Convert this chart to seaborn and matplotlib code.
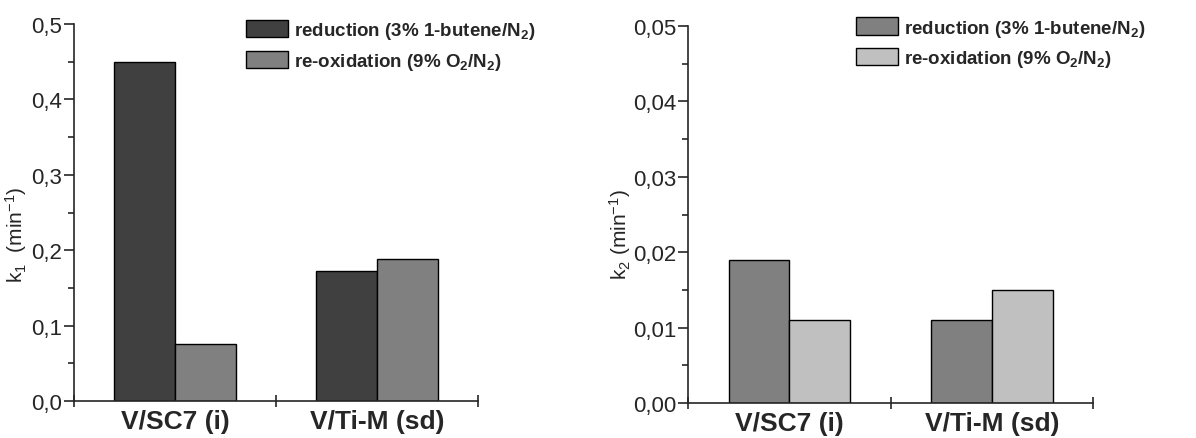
import pandas as pd
import seaborn as sns
import matplotlib.pyplot as plt
from matplotlib.ticker import FixedLocator, MultipleLocator, FuncFormatter

# data
catalysts = ['V/SC7 (i)', 'V/Ti-M (sd)']
steps = ['reduction (3% 1-butene/N$_2$)', 're-oxidation (9% O$_2$/N$_2$)']
k1_reduction = [0.450, 0.172]
k1_reoxidation = [0.076, 0.188]
k2_reduction = [0.019, 0.011]
k2_reoxidation = [0.011, 0.015]

sns.set_style('ticks')
plt.rcParams['font.family'] = ['Liberation Sans', 'DejaVu Sans']
plt.rcParams['mathtext.default'] = 'regular'

def make_df(red, reox):
    rows = []
    for c, r, o in zip(catalysts, red, reox):
        rows.append({'catalyst': c, 'step': steps[0], 'k': r})
        rows.append({'catalyst': c, 'step': steps[1], 'k': o})
    return pd.DataFrame(rows)

df1 = make_df(k1_reduction, k1_reoxidation)
df2 = make_df(k2_reduction, k2_reoxidation)

fig = plt.figure(figsize=(11.96, 4.39), dpi=100)
ax1 = fig.add_axes([0.0619, 0.0843, 0.3378, 0.8587])
ax2 = fig.add_axes([0.5753, 0.0797, 0.3386, 0.8588])

def draw(ax, df, colors, ymax, step, fmt, ylabel, label_xy, leg_anchor):
    sns.barplot(data=df, x='catalyst', y='k', hue='step', palette=colors,
                width=0.6, edgecolor='black', linewidth=1.0, ax=ax)
    ax.set_xlim(-0.5, 1.5)
    ax.set_ylim(0, ymax)
    ax.yaxis.set_major_locator(MultipleLocator(step))
    ax.yaxis.set_minor_locator(MultipleLocator(step / 2))
    ax.yaxis.set_major_formatter(FuncFormatter(lambda v, p: (fmt % v).replace('.', ',')))
    ax.xaxis.set_minor_locator(FixedLocator([-0.5, 0.5, 1.5]))
    ax.tick_params(axis='x', which='major', length=0, pad=6, labelsize=19)
    ax.tick_params(axis='x', which='minor', direction='inout', length=8, width=1.2)
    ax.tick_params(axis='y', which='major', direction='out', length=7, width=1.2,
                   labelsize=16, pad=1.5)
    ax.tick_params(axis='y', which='minor', direction='out', length=4, width=1.2)
    for lab in ax.get_xticklabels():
        lab.set_fontweight('bold')
    ax.set_xlabel('')
    ax.set_ylabel(ylabel, fontsize=15)
    ax.yaxis.set_label_coords(*label_xy)
    sns.despine(ax=ax)
    for s in ['left', 'bottom']:
        ax.spines[s].set_linewidth(1.2)
    ax.legend(loc='upper left', bbox_to_anchor=leg_anchor, bbox_transform=fig.transFigure,
              frameon=False, prop={'weight': 'bold', 'size': 13.5},
              handlelength=2.2, handleheight=1.05, handletextpad=0.35,
              labelspacing=0.5, borderaxespad=0, borderpad=0)

draw(ax1, df1, ['#404040', '#808080'], 0.5, 0.1, '%.1f', 'k$_1$  (min$^{-1}$)',
     (-0.112, 0.443), (0.206, 0.952))
draw(ax2, df2, ['#808080', '#c0c0c0'], 0.05, 0.01, '%.2f', 'k$_2$ (min$^{-1}$)',
     (-0.135, 0.448), (0.716, 0.958))

fig.savefig('out.png', dpi=100)
